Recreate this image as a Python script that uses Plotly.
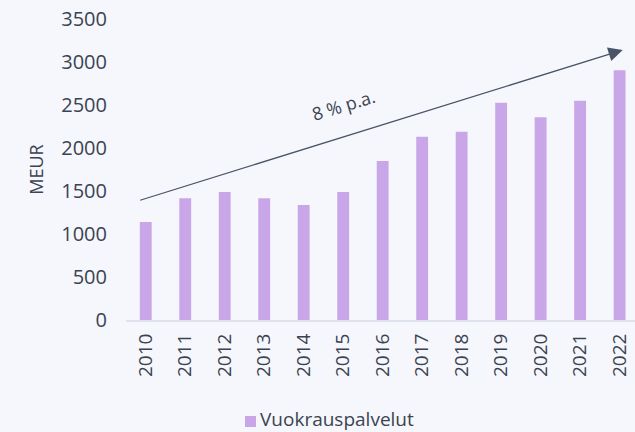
import plotly.graph_objects as go

years = ["2010", "2011", "2012", "2013", "2014", "2015", "2016",
         "2017", "2018", "2019", "2020", "2021", "2022"]
values = [1140, 1415, 1488, 1415, 1337, 1488, 1849, 2131, 2190, 2527, 2357, 2550, 2903]
series_name = "Vuokrauspalvelut"
y_ticks = [0, 500, 1000, 1500, 2000, 2500, 3000, 3500]
trend_label = "8 % p.a."
trend_start = (-0.18, 1387)
trend_end = (12.08, 3140)

BG = "#f5f7fc"
TXT = "#3b4350"
BAR = "#c8a6e8"
FONT = "Open Sans"

fig = go.Figure()
fig.add_trace(go.Bar(x=list(range(len(years))), y=values, name=series_name,
                     marker=dict(color=BAR, line=dict(width=0)),
                     showlegend=False))

fig.add_annotation(x=trend_end[0], y=trend_end[1], ax=trend_start[0], ay=trend_start[1],
                   xref="x", yref="y", axref="x", ayref="y",
                   showarrow=True, arrowhead=2, arrowsize=2.2, arrowwidth=1.3,
                   arrowcolor="#4a5468", text="")
fig.add_annotation(x=5.0, y=2500, xref="x", yref="y", text=trend_label,
                   showarrow=False, textangle=-17,
                   font=dict(family=FONT, size=18, color=TXT))

# legend entry (swatch + label)
fig.add_shape(type="rect", xref="paper", yref="paper",
              x0=0.2338, x1=0.2554, y0=-0.3555, y1=-0.319,
              fillcolor=BAR, line=dict(width=0))
fig.add_annotation(x=0.262, y=-0.3289, xref="paper", yref="paper",
                   xanchor="left", yanchor="middle", showarrow=False, borderpad=0,
                   text=series_name, font=dict(family=FONT, size=19, color=TXT))

fig.update_layout(
    width=635, height=432,
    paper_bgcolor=BG, plot_bgcolor=BG,
    margin=dict(l=126, r=0, t=19, b=112),
    bargap=0.7,
    font=dict(family=FONT, size=18, color=TXT),
    xaxis=dict(range=[-0.5, 12.39], tickmode="array",
               tickvals=list(range(len(years))), ticktext=years,
               tickangle=-90, showgrid=False, showline=True,
               linecolor="#dfe2ea", linewidth=2, ticks="",
               ticklabelstandoff=4,
               tickfont=dict(family=FONT, size=19, color=TXT), zeroline=False),
    yaxis=dict(range=[0, 3500], tickvals=y_ticks, showgrid=False,
               zeroline=False, showline=False, ticks="",
               ticklabelstandoff=18,
               tickfont=dict(family=FONT, size=20, color=TXT),
               title=dict(text="MEUR", font=dict(family=FONT, size=18, color=TXT),
                          standoff=12)),
)

fig.write_html("out.html", config={"displayModeBar": False},
               post_script="document.body.style.margin='0';document.body.style.overflow='hidden';")
